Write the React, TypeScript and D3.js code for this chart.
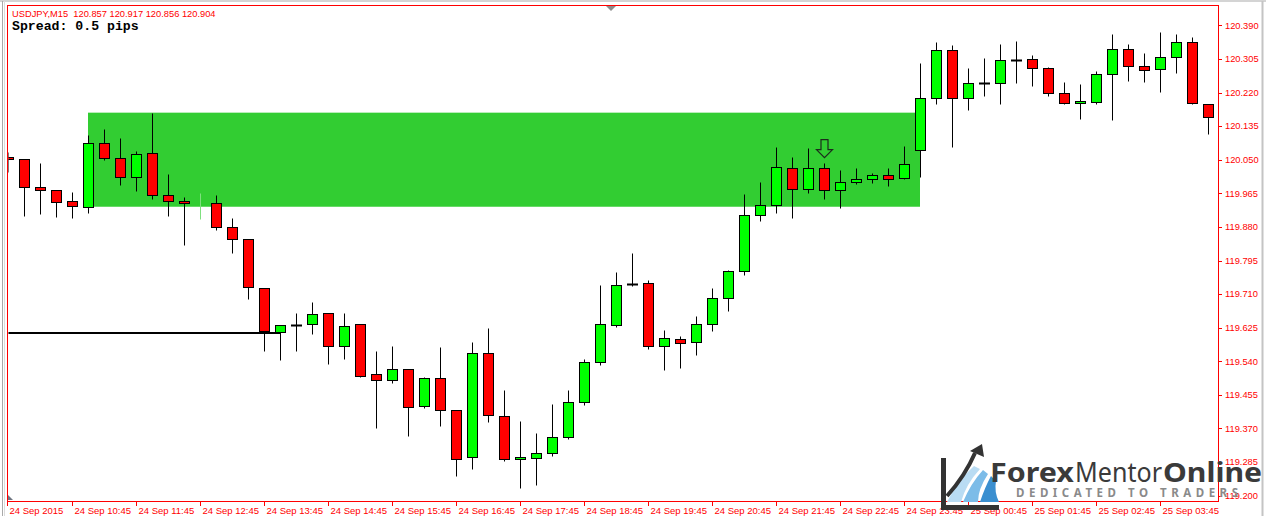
import React from "react";
import * as d3 from "d3";

// ---- header text ----
const SYMBOL_LINE = "USDJPY,M15  120.857 120.917 120.856 120.904";
const SPREAD_TEXT = "Spread: 0.5 pips";

// ---- M15 bars, 24 Sep 2015 09:45 .. 25 Sep 2015 04:30 ----
const opens = [
  120.056, 120.051, 119.98, 119.973, 119.946, 119.931, 120.091, 120.054, 120.006, 120.067,
  119.96, 119.946, 119.94, 119.94, 119.879, 119.849, 119.725, 119.613, 119.632, 119.634,
  119.661, 119.578, 119.634, 119.507, 119.492, 119.52, 119.426, 119.497, 119.416, 119.297,
  119.56, 119.401, 119.292, 119.295, 119.307, 119.348, 119.436, 119.537, 119.633, 119.736,
  119.737, 119.578, 119.596, 119.588, 119.635, 119.699, 119.768, 119.909, 119.935, 120.028,
  119.975, 120.028, 119.973, 119.993, 120.0, 120.011, 120.003, 120.074, 120.205, 120.327,
  120.205, 120.243, 120.243, 120.303, 120.304, 120.281, 120.218, 120.193, 120.195, 120.266,
  120.329, 120.286, 120.279, 120.309, 120.347, 120.19,
];
const highs = [
  120.07, 120.052, 120.042, 119.974, 119.968, 120.113, 120.128, 120.105, 120.072, 120.169,
  120.014, 119.956, 119.966, 119.961, 119.903, 119.85, 119.726, 119.632, 119.661, 119.69,
  119.662, 119.661, 119.635, 119.565, 119.578, 119.521, 119.5, 119.576, 119.418, 119.588,
  119.624, 119.467, 119.389, 119.359, 119.433, 119.467, 119.545, 119.733, 119.766, 119.814,
  119.746, 119.619, 119.605, 119.655, 119.725, 119.771, 119.963, 119.994, 120.082, 120.057,
  120.08, 120.041, 120.023, 120.028, 120.016, 120.028, 120.084, 120.294, 120.347, 120.339,
  120.281, 120.307, 120.342, 120.35, 120.315, 120.284, 120.246, 120.241, 120.274, 120.367,
  120.342, 120.319, 120.372, 120.367, 120.36, 120.19,
];
const lows = [
  120.019, 119.908, 119.913, 119.906, 119.903, 119.916, 120.048, 119.987, 119.97, 119.951,
  119.908, 119.835, 119.901, 119.873, 119.813, 119.697, 119.567, 119.544, 119.567, 119.61,
  119.534, 119.547, 119.5, 119.37, 119.486, 119.352, 119.423, 119.377, 119.251, 119.268,
  119.387, 119.289, 119.219, 119.228, 119.3, 119.344, 119.43, 119.531, 119.628, 119.731,
  119.572, 119.519, 119.524, 119.557, 119.617, 119.668, 119.759, 119.896, 119.916, 119.903,
  119.965, 119.95, 119.927, 119.988, 119.99, 119.983, 120.0, 120.006, 120.19, 120.081,
  120.175, 120.21, 120.19, 120.243, 120.237, 120.21, 120.192, 120.152, 120.19, 120.15,
  120.25, 120.247, 120.222, 120.269, 120.19, 120.114,
];
const closes = [
  120.053, 119.98, 119.973, 119.942, 119.932, 120.092, 120.054, 120.006, 120.064, 119.96,
  119.945, 119.94, 119.941, 119.879, 119.849, 119.727, 119.617, 119.631, 119.632, 119.659,
  119.578, 119.63, 119.504, 119.492, 119.52, 119.424, 119.497, 119.416, 119.292, 119.56,
  119.403, 119.294, 119.297, 119.307, 119.348, 119.436, 119.537, 119.634, 119.732, 119.736,
  119.578, 119.598, 119.586, 119.634, 119.699, 119.768, 119.909, 119.935, 120.032, 119.975,
  120.028, 119.973, 119.993, 120.0, 120.011, 120.0, 120.038, 120.205, 120.327, 120.205,
  120.243, 120.243, 120.301, 120.303, 120.281, 120.218, 120.193, 120.198, 120.266, 120.329,
  120.286, 120.276, 120.309, 120.347, 120.193, 120.157,
];
// bar drawn only as a faint green stroke in the reference
const ghostBars = [12];

// ---- axes ----
const priceTicks = [
  120.39, 120.305, 120.22, 120.135, 120.05, 119.965, 119.88, 119.795,
  119.71, 119.625, 119.54, 119.455, 119.37, 119.285, 119.2,
];
const timeTickBars = [0, 4, 8, 12, 16, 20, 24, 28, 32, 36, 40, 44, 48, 52, 56, 60, 64, 68, 72];
const timeTickLabels = [
  "24 Sep 2015", "24 Sep 10:45", "24 Sep 11:45", "24 Sep 12:45", "24 Sep 13:45",
  "24 Sep 14:45", "24 Sep 15:45", "24 Sep 16:45", "24 Sep 17:45", "24 Sep 18:45",
  "24 Sep 19:45", "24 Sep 20:45", "24 Sep 21:45", "24 Sep 22:45", "24 Sep 23:45",
  "25 Sep 00:45", "25 Sep 01:45", "25 Sep 02:45", "25 Sep 03:45",
];

// ---- drawn objects ----
const zoneBars = [5, 57];
const zonePrices = [120.169, 119.931];
const levelBars = [0, 17];
const levelPrice = 119.612;
const arrowBar = 51;
const arrowPrice = 120.055;

const W = 1266;
const H = 516;
const PL = 8;
const PR = 1218;
const PT = 5;
const PB = 501;

const BULL = "#00ff00";
const BEAR = "#ff0000";
const AXIS = "#ff0000";
const AXIS_FONT = "'Liberation Sans', Arial, sans-serif";
const LOGO_FONT = "'Noto Sans', 'Open Sans', sans-serif";

export default function App() {
  const x = d3.scaleLinear().domain([0, 75]).range([8, 1208]);
  const y = d3.scaleLinear().domain([119.2, 120.39]).range([495.7, 25.3]);
  const sx = (i: number) => Math.round(x(i));
  const sy = (p: number) => Math.round(y(p)) + 0.5;

  const bars = d3.range(opens.length);

  return (
    <svg
      width={W}
      height={H}
      style={{ position: "absolute", left: 0, top: 0, background: "#fff" }}
      xmlns="http://www.w3.org/2000/svg"
    >
      <defs>
        <clipPath id="plot">
          <rect x={PL + 0.5} y={PT + 0.5} width={PR - PL - 1} height={PB - PT - 1} />
        </clipPath>
      </defs>
      <rect x={0} y={0} width={W} height={H} fill="#fff" />

      {/* outer window edges */}
      <line x1={0} x2={W} y1={1} y2={1} stroke="#a9a9a9" strokeWidth={1} />
      <line x1={2.5} x2={2.5} y1={1} y2={H} stroke="#a9a9a9" strokeWidth={1} />
      <line x1={4.5} x2={4.5} y1={1} y2={H} stroke="#dcdcdc" strokeWidth={1} />
      <line x1={1262.5} x2={1262.5} y1={1} y2={H} stroke="#c4c4c4" strokeWidth={2} />

      {/* plot contents */}
      <g clipPath="url(#plot)">
        <rect
          x={x(zoneBars[0])}
          y={y(zonePrices[0])}
          width={x(zoneBars[1]) - x(zoneBars[0])}
          height={y(zonePrices[1]) - y(zonePrices[0])}
          fill="#32cd32"
        />
        <line
          x1={x(levelBars[0]) - 2}
          x2={x(levelBars[1])}
          y1={Math.round(y(levelPrice))}
          y2={Math.round(y(levelPrice))}
          stroke="#000"
          strokeWidth={2}
        />
        {bars.map((i) => {
          const o = opens[i];
          const c = closes[i];
          const cx = sx(i) + 0.5;
          if (ghostBars.includes(i)) {
            return (
              <line key={i} x1={cx} x2={cx} y1={sy(highs[i])} y2={sy(lows[i])} stroke="#7fe07f" strokeWidth={1} />
            );
          }
          const top = sy(Math.max(o, c));
          const bot = sy(Math.min(o, c));
          const doji = Math.abs(o - c) < 0.0015;
          return (
            <g key={i}>
              <line x1={cx} x2={cx} y1={sy(highs[i])} y2={sy(lows[i])} stroke="#000" strokeWidth={1} />
              {doji ? (
                <line x1={cx - 5.5} x2={cx + 5.5} y1={top} y2={top} stroke="#000" strokeWidth={2} />
              ) : (
                <rect
                  x={cx - 5}
                  y={top}
                  width={10}
                  height={Math.max(bot - top, 1)}
                  fill={c >= o ? BULL : BEAR}
                  stroke="#000"
                  strokeWidth={1}
                />
              )}
            </g>
          );
        })}
        {/* down arrow */}
        {(() => {
          const ax = sx(arrowBar) + 0.5;
          const ay = y(arrowPrice);
          const d = `M${ax - 3.5},${ay - 18} L${ax + 3.5},${ay - 18} L${ax + 3.5},${ay - 8} L${ax + 8},${ay - 8} L${ax},${ay} L${ax - 8},${ay - 8} L${ax - 3.5},${ay - 8} Z`;
          return <path d={d} fill="none" stroke="#1d2a1d" strokeWidth={1.2} />;
        })()}
      </g>

      {/* frame */}
      <rect x={PL - 0.5} y={PT + 0.5} width={PR - PL + 1} height={PB - PT} fill="none" stroke={AXIS} strokeWidth={1} />
      {/* chart-shift markers */}
      <path d="M606,6 L616,6 L611,11 Z" fill="#8c8c8c" />
      <path d="M8,495 L8,500 L13,500 Z" fill="#6d7480" />

      {/* price axis */}
      {priceTicks.map((p) => (
        <g key={p}>
          <line x1={PR + 0.5} x2={PR + 4} y1={Math.round(y(p)) + 0.5} y2={Math.round(y(p)) + 0.5} stroke={AXIS} />
          <text x={1225} y={y(p)} dy="0.35em" fontSize={9.3} fontFamily={AXIS_FONT} fill={AXIS}>
            {p.toFixed(3)}
          </text>
        </g>
      ))}

      {/* time axis */}
      {timeTickBars.map((b, i) => {
        const tx = i === 0 ? PL - 0.5 : sx(b) + 0.5;
        return (
          <g key={b}>
            <line x1={tx} x2={tx} y1={PB} y2={PB + 5} stroke={AXIS} />
            <text x={tx + 2} y={513.5} fontSize={9.5} fontFamily={AXIS_FONT} fill={AXIS}>
              {timeTickLabels[i]}
            </text>
          </g>
        );
      })}

      {/* header */}
      <text x={12} y={16.5} fontSize={9.3} fontFamily={AXIS_FONT} fill="#ff0000" style={{ whiteSpace: "pre" }}>
        {SYMBOL_LINE}
      </text>
      <text x={12} y={29.5} fontSize={13.2} fontWeight="bold" fontFamily="'Liberation Mono', 'Courier New', monospace" fill="#000">
        {SPREAD_TEXT}
      </text>

      {/* watermark logo */}
      <g>
        <path d="M947,502 Q958,480 974,466 L980,469 Q966,484 961,502 Z" fill="#b9dcf3" />
        <path d="M963,502 Q971,483 983,470 L988,474 Q978,489 978,502 Z" fill="#7cbce8" />
        <path d="M980,502 Q985,487 991,476 L996,481 Q994,492 999,502 Z" fill="#3a8fd0" />
        <rect x={941} y={458} width={5} height={52} fill="#333" />
        <rect x={941} y={505} width={58} height={5} fill="#333" />
        <path d="M947,496 Q965,476 975,453" fill="none" stroke="#333" strokeWidth={4} />
        <path d="M982,444 L970,451 L984,457 Z" fill="#333" />
        <text x={990} y={482} fontSize={27} fontWeight="bold" fontFamily={LOGO_FONT} fill="#3a3a3a" textLength={84} lengthAdjust="spacingAndGlyphs">
          Forex
        </text>
        <text x={1075} y={482} fontSize={27} fontFamily={LOGO_FONT} fill="#3a3a3a" textLength={87} lengthAdjust="spacingAndGlyphs">
          Mentor
        </text>
        <text x={1163} y={482} fontSize={27} fontWeight="bold" fontFamily={LOGO_FONT} fill="#3a3a3a" textLength={99} lengthAdjust="spacingAndGlyphs">
          Online
        </text>
        <text x={1016} y={497} fontSize={11.5} fontWeight="bold" fontFamily={LOGO_FONT} fill="#8a8a8a" textLength={222} lengthAdjust="spacing">
          DEDICATED TO TRADERS
        </text>
      </g>
    </svg>
  );
}
